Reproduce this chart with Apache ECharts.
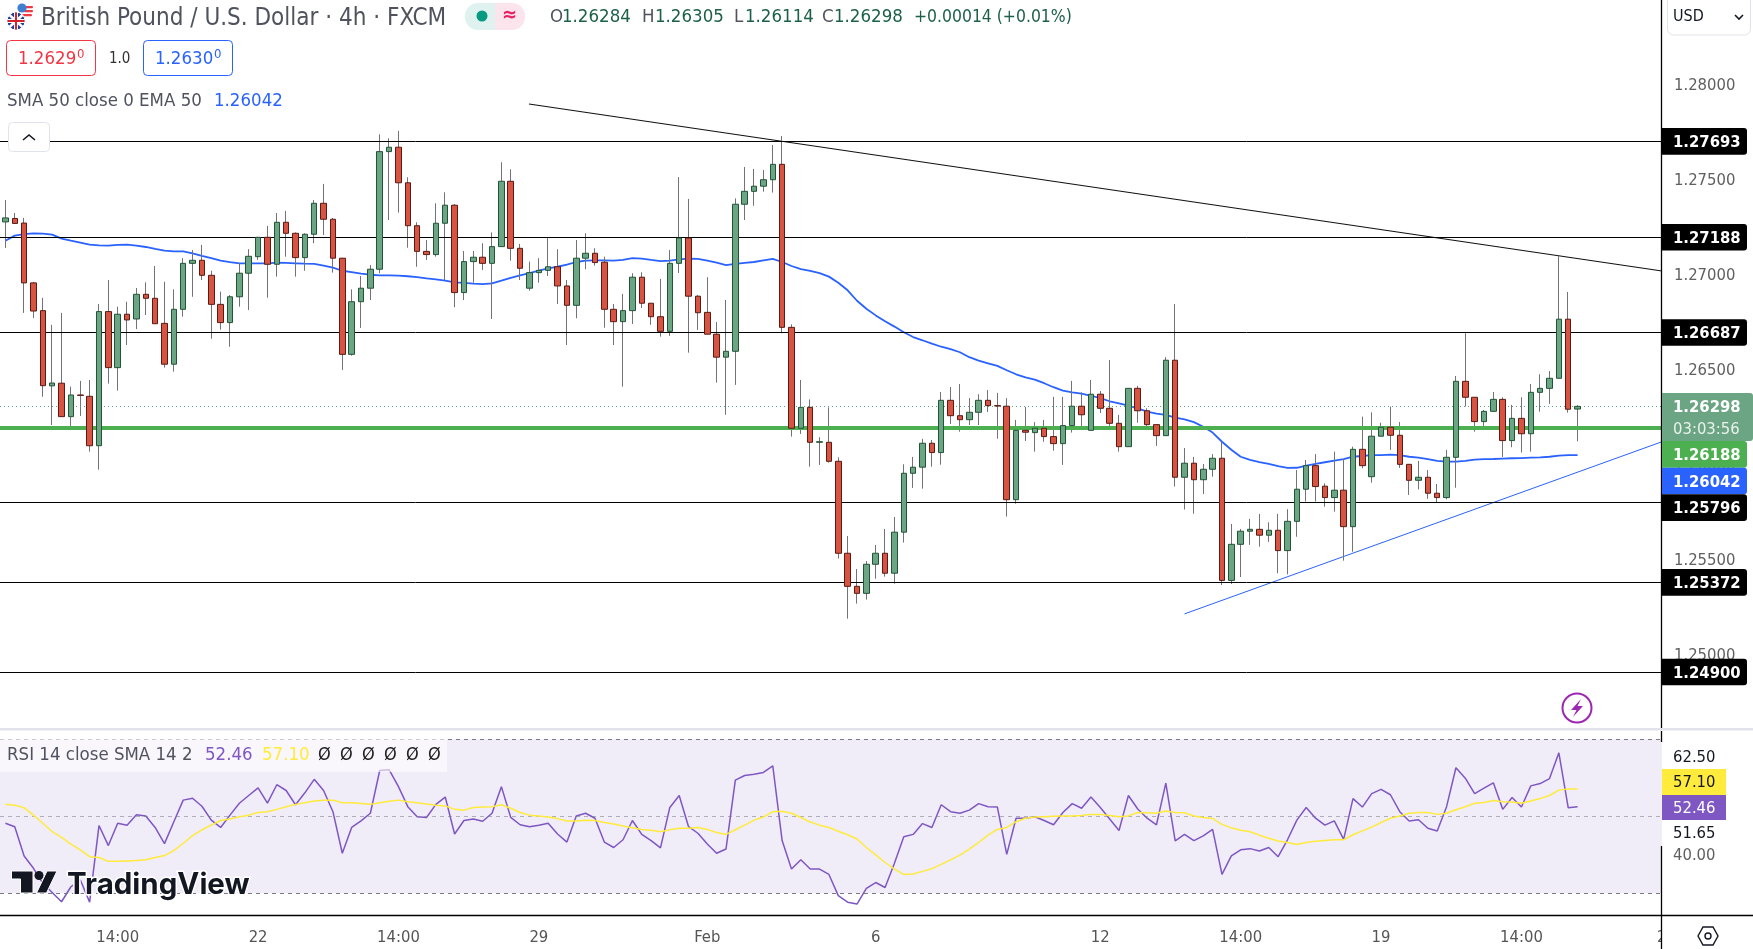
<!DOCTYPE html>
<html>
<head>
<meta charset="utf-8">
<title>GBP/USD 4h</title>
<script src="https://cdn.jsdelivr.net/npm/echarts@6/dist/echarts.min.js"></script>
<style>
html,body{margin:0;padding:0;background:#fff;}
#chart{width:1753px;height:949px;}
</style>
</head>
<body>
<div id="chart"></div>
<script>
// GBP/USD 4h candles, oldest first
const opens = [
1.27269,1.27287,1.27263,1.26948,1.26802,1.26406,1.26420,1.26244,1.26358,1.26351,
1.26091,1.26797,1.26502,1.26783,1.26758,1.26888,1.26867,1.26735,1.26520,1.26809,
1.27051,1.27067,1.26988,1.26835,1.26739,1.26875,1.26999,1.27086,1.27188,1.27046,
1.27267,1.27209,1.27081,1.27204,1.27367,1.27283,1.27078,1.26572,1.26849,1.26920,
1.27020,1.27639,1.27662,1.27475,1.27249,1.27114,1.27097,1.27262,1.27357,1.26897,
1.27060,1.27083,1.27051,1.27139,1.27483,1.27130,1.26920,1.27002,1.27014,1.27033,
1.26932,1.26830,1.27078,1.27104,1.27057,1.26809,1.26744,1.26802,1.26978,1.26841,
1.26770,1.26693,1.27051,1.27184,1.26878,1.26793,1.26678,1.26557,1.26588,1.27362,
1.27430,1.27457,1.27491,1.27572,1.26714,1.26183,1.26293,1.26109,1.26109,1.26009,
1.25525,1.25351,1.25314,1.25467,1.25525,1.25420,1.25636,1.25946,1.25978,1.26104,
1.26055,1.26330,1.26249,1.26228,1.26267,1.26330,1.26302,1.26299,1.25807,1.26172,
1.26160,1.26183,1.26139,1.26102,1.26197,1.26299,1.26172,1.26362,1.26288,1.26209,
1.26086,1.26393,1.26275,1.26202,1.26144,1.26541,1.25925,1.25999,1.25912,1.25967,
1.26025,1.25382,1.25572,1.25641,1.25651,1.25620,1.25646,1.25539,1.25693,1.25862,
1.25986,1.25878,1.25818,1.25857,1.25665,1.26072,1.25928,1.26141,1.26188,1.26146,
1.25993,1.25909,1.25925,1.25841,1.25818,1.26030,1.26430,1.26346,1.26218,1.26272,
1.26335,1.26118,1.26235,1.26154,1.26372,1.26393,1.26446,1.26757,1.26284];
const closes = [
1.27290,1.27261,1.26948,1.26800,1.26407,1.26421,1.26244,1.26358,1.26356,1.26091,
1.26797,1.26502,1.26783,1.26753,1.26888,1.26867,1.26733,1.26520,1.26809,1.27051,
1.27067,1.26988,1.26835,1.26739,1.26875,1.26999,1.27088,1.27188,1.27046,1.27267,
1.27209,1.27081,1.27204,1.27367,1.27283,1.27078,1.26572,1.26849,1.26920,1.27020,
1.27639,1.27662,1.27475,1.27249,1.27114,1.27097,1.27262,1.27357,1.26897,1.27060,
1.27083,1.27051,1.27139,1.27483,1.27130,1.27025,1.27002,1.27014,1.27033,1.26932,
1.26830,1.27078,1.27104,1.27055,1.26809,1.26744,1.26802,1.26978,1.26841,1.26770,
1.26693,1.27051,1.27184,1.26878,1.26791,1.26678,1.26557,1.26588,1.27362,1.27430,
1.27457,1.27491,1.27572,1.26714,1.26183,1.26293,1.26109,1.26112,1.26009,1.25525,
1.25351,1.25314,1.25467,1.25525,1.25420,1.25636,1.25946,1.25978,1.26104,1.26055,
1.26330,1.26249,1.26228,1.26267,1.26330,1.26302,1.26300,1.25807,1.26172,1.26162,
1.26183,1.26139,1.26102,1.26197,1.26299,1.26254,1.26362,1.26288,1.26209,1.26086,
1.26393,1.26275,1.26202,1.26144,1.26541,1.25925,1.25999,1.25912,1.25967,1.26025,
1.25382,1.25572,1.25641,1.25651,1.25620,1.25646,1.25539,1.25693,1.25862,1.25986,
1.25876,1.25818,1.25857,1.25665,1.26072,1.25986,1.26141,1.26188,1.26146,1.25993,
1.25909,1.25925,1.25841,1.25818,1.26030,1.26430,1.26346,1.26218,1.26272,1.26335,
1.26118,1.26235,1.26154,1.26372,1.26393,1.26446,1.26757,1.26283,1.26298];
const lows = [
1.27132,1.27258,1.26790,1.26763,1.26349,1.26200,1.26244,1.26191,1.26248,1.26060,
1.25965,1.26418,1.26381,1.26621,1.26705,1.26779,1.26733,1.26502,1.26481,1.26770,
1.26875,1.26963,1.26654,1.26702,1.26612,1.26823,1.26805,1.27069,1.26870,1.26981,
1.27086,1.26981,1.27012,1.27157,1.27200,1.27002,1.26490,1.26565,1.26711,1.26858,
1.26999,1.27279,1.27318,1.27133,1.27033,1.27069,1.27086,1.26963,1.26820,1.26858,
1.26949,1.27016,1.26758,1.27139,1.27065,1.26963,1.26907,1.26949,1.26984,1.26837,
1.26621,1.26762,1.27020,1.27039,1.26712,1.26621,1.26402,1.26732,1.26816,1.26727,
1.26665,1.26669,1.27000,1.26581,1.26700,1.26678,1.26423,1.26254,1.26411,1.27279,
1.27354,1.27428,1.27423,1.26683,1.26139,1.26153,1.25981,1.25990,1.26002,1.25497,
1.25181,1.25260,1.25281,1.25391,1.25402,1.25365,1.25581,1.25869,1.25865,1.25981,
1.25991,1.26205,1.26165,1.26200,1.26200,1.26269,1.26128,1.25718,1.25786,1.26116,
1.26060,1.26112,1.26065,1.25990,1.26160,1.26188,1.26172,1.26263,1.26186,1.26060,
1.26086,1.26212,1.26183,1.26090,1.26144,1.25876,1.25755,1.25733,1.25837,1.25928,
1.25358,1.25363,1.25400,1.25569,1.25560,1.25585,1.25420,1.25414,1.25612,1.25797,
1.25797,1.25770,1.25744,1.25486,1.25533,1.25972,1.25897,1.26141,1.26069,1.25974,
1.25832,1.25861,1.25811,1.25791,1.25809,1.25870,1.26297,1.26165,1.26174,1.26272,
1.26032,1.26083,1.26055,1.26060,1.26270,1.26311,1.26446,1.26265,1.26114];
const highs = [
1.27384,1.27316,1.27290,1.26953,1.26869,1.26727,1.26790,1.26402,1.26432,1.26437,
1.26837,1.26963,1.26823,1.26849,1.26921,1.26951,1.27037,1.26954,1.26914,1.27078,
1.27121,1.27148,1.27012,1.26902,1.26884,1.27053,1.27126,1.27190,1.27248,1.27316,
1.27327,1.27214,1.27209,1.27384,1.27469,1.27290,1.27080,1.26914,1.26984,1.27042,
1.27730,1.27709,1.27748,1.27504,1.27267,1.27174,1.27367,1.27425,1.27363,1.27116,
1.27116,1.27157,1.27214,1.27583,1.27546,1.27153,1.27060,1.27078,1.27188,1.27125,
1.26963,1.27174,1.27209,1.27130,1.27086,1.26837,1.26890,1.26999,1.27004,1.26841,
1.26969,1.27121,1.27505,1.27390,1.26884,1.26978,1.26742,1.26858,1.27393,1.27558,
1.27548,1.27542,1.27674,1.27721,1.26730,1.26437,1.26335,1.26136,1.26293,1.26030,
1.25616,1.25442,1.25484,1.25569,1.25653,1.25716,1.25993,1.26032,1.26127,1.26121,
1.26374,1.26400,1.26416,1.26342,1.26362,1.26384,1.26369,1.26341,1.26227,1.26295,
1.26215,1.26227,1.26348,1.26348,1.26432,1.26372,1.26437,1.26379,1.26542,1.26253,
1.26393,1.26406,1.26288,1.26202,1.26557,1.26837,1.26079,1.26032,1.25995,1.26047,
1.26112,1.25679,1.25653,1.25706,1.25732,1.25688,1.25732,1.25757,1.25963,1.26016,
1.26047,1.25893,1.26060,1.26021,1.26086,1.26244,1.26267,1.26212,1.26297,1.26216,
1.25993,1.26011,1.25963,1.25890,1.26069,1.26458,1.26683,1.26346,1.26279,1.26374,
1.26346,1.26306,1.26346,1.26416,1.26467,1.26484,1.27090,1.26900,1.26305];

// EMA 50 of the close
const ema50 = [
1.27170,1.27197,1.27205,1.27209,1.27207,1.27202,1.27181,1.27170,1.27160,1.27149,
1.27146,1.27144,1.27148,1.27149,1.27144,1.27137,1.27127,1.27118,1.27114,1.27114,
1.27104,1.27090,1.27078,1.27065,1.27057,1.27051,1.27051,1.27051,1.27051,1.27055,
1.27053,1.27051,1.27049,1.27048,1.27039,1.27028,1.27012,1.27005,1.26997,1.26991,
1.26988,1.26988,1.26986,1.26983,1.26978,1.26972,1.26967,1.26960,1.26951,1.26948,
1.26944,1.26942,1.26946,1.26960,1.26975,1.26988,1.26999,1.27012,1.27025,1.27033,
1.27044,1.27058,1.27065,1.27067,1.27067,1.27065,1.27069,1.27078,1.27076,1.27069,
1.27063,1.27065,1.27072,1.27076,1.27074,1.27065,1.27055,1.27042,1.27048,1.27053,
1.27058,1.27067,1.27074,1.27058,1.27037,1.27021,1.27011,1.26999,1.26981,1.26949,
1.26909,1.26854,1.26812,1.26777,1.26746,1.26718,1.26688,1.26663,1.26646,1.26628,
1.26612,1.26599,1.26583,1.26557,1.26539,1.26525,1.26511,1.26488,1.26467,1.26451,
1.26439,1.26420,1.26399,1.26381,1.26372,1.26365,1.26354,1.26341,1.26325,1.26314,
1.26302,1.26288,1.26270,1.26260,1.26253,1.26239,1.26230,1.26215,1.26191,1.26160,
1.26112,1.26070,1.26033,1.26016,1.26005,1.25995,1.25984,1.25974,1.25975,1.25986,
1.25995,1.26004,1.26012,1.26020,1.26033,1.26037,1.26041,1.26042,1.26044,1.26042,
1.26033,1.26028,1.26020,1.26011,1.26007,1.26007,1.26011,1.26018,1.26020,1.26021,
1.26023,1.26025,1.26026,1.26028,1.26030,1.26033,1.26039,1.26041,1.26042];

// RSI 14 and its SMA 14
const rsi14 = [
48.2,47.3,39.7,36.5,32.6,30.2,27.8,31.7,33.5,27.7,
47.6,42.4,48.2,47.7,50.4,50.1,47.1,42.9,48.6,54.2,
54.7,52.6,49.0,47.1,50.3,53.4,55.4,57.4,53.4,58.2,
56.7,53.0,56.1,59.6,56.7,51.2,40.4,47.1,48.8,50.8,
61.9,62.1,57.7,52.5,49.9,49.7,53.1,55.0,45.4,48.9,
49.3,48.7,50.8,57.7,49.7,47.8,47.3,47.7,48.2,45.4,
43.3,50.1,50.8,49.5,43.3,41.9,43.9,48.9,45.3,43.7,
41.8,52.3,55.4,47.3,45.6,42.8,40.4,41.5,59.4,60.6,
60.9,61.4,63.1,43.7,36.3,38.7,36.3,36.3,34.9,29.4,
27.7,27.2,31.3,32.8,31.5,37.8,44.7,45.3,48.1,47.1,
53.0,51.2,50.8,51.6,53.3,52.5,52.4,40.1,49.5,49.5,
49.9,48.9,47.8,51.0,53.3,52.1,55.0,52.3,49.3,46.3,
55.4,51.9,49.5,47.8,58.6,43.6,45.3,43.7,44.9,46.6,
34.9,39.7,41.3,41.6,41.0,41.9,39.5,43.9,49.0,52.3,
49.5,47.7,48.8,44.0,54.6,52.4,55.9,57.0,55.6,51.2,
48.8,49.1,46.9,46.2,52.5,62.6,59.9,55.9,57.3,58.7,
51.8,54.9,52.4,57.9,58.5,59.8,66.5,52.2,52.46];
const rsiSma14 = [
53.1,52.9,52.2,50.3,48.2,46.0,44.5,42.8,41.3,39.5,
39.3,38.3,38.3,38.4,38.5,38.7,39.3,39.8,41.1,43.0,
45.0,46.5,47.7,48.9,49.3,49.9,50.3,51.0,51.2,51.8,
52.5,53.1,53.5,54.0,54.2,54.2,53.5,53.5,53.3,53.1,
53.5,53.9,54.2,53.8,53.5,53.2,52.9,52.7,51.8,51.6,
52.3,52.4,52.5,53.0,52.1,51.0,50.3,50.1,49.8,49.4,
48.8,48.8,49.0,48.9,48.4,48.0,47.5,47.0,46.6,46.4,
46.0,46.5,46.9,46.9,47.1,46.6,45.8,45.3,46.5,47.7,
49.0,49.8,51.2,51.3,50.8,49.7,48.5,47.7,47.1,46.1,
45.2,44.1,41.9,40.0,38.0,36.3,34.9,35.0,35.7,36.4,
37.5,38.7,39.9,41.5,43.2,45.1,46.6,47.1,48.6,49.5,
49.8,49.9,50.0,50.1,50.1,50.2,50.5,50.5,50.2,49.9,
50.1,51.0,50.9,50.8,51.4,51.0,50.9,50.1,49.7,49.4,
47.9,47.0,46.4,46.0,45.1,44.3,43.6,43.2,42.7,43.2,
43.5,43.7,43.9,43.9,45.2,46.2,47.2,48.4,49.5,50.1,
50.8,51.0,51.0,50.5,50.8,51.7,52.5,53.4,53.6,54.1,
53.8,53.7,53.4,54.0,54.6,55.4,56.8,57.1,57.10];

// Drawn horizontal levels and trend lines
const blackLevels = [1.27693,1.27188,1.26687,1.25796,1.25372,1.24900];
const supportLevel = 1.26188;
const lastPrice = 1.26298;
const lastEma = 1.26042;
const resistanceTrend = [[55.95,1.27890],[177.02,1.27011]];
const supportTrend = [[126,1.25206],[177.02,1.26112]];

// Axis ticks
const priceTicks = [1.28,1.275,1.27,1.265,1.26,1.255,1.25];
const timeTickBars = [12,27,42,57,75,93,117,132,147,162,177];
const timeTickLabels = ['14:00','22','14:00','29','Feb','6','12','14:00','19','14:00','2'];

const FONT = '"DejaVu Sans Condensed","Noto Sans"';
const xMin = -0.577, xMax = 177.02;
const bars = opens.map((_, i) => i);

const option = {
  animation: false,
  backgroundColor: '#ffffff',
  grid: [
    {left: 0, top: 0, width: 1662, height: 729},
    {left: 0, top: 731, width: 1662, height: 185}
  ],
  xAxis: [
    {type: 'value', gridIndex: 0, min: xMin, max: xMax, show: false, splitLine: {show: false}},
    {type: 'value', gridIndex: 1, min: xMin, max: xMax, splitLine: {show: false},
      axisLine: {show: false}, axisTick: {show: false},
      axisLabel: {
        show: true, customValues: timeTickBars, margin: 13,
        color: '#555555', fontFamily: FONT, fontSize: 16.5,
        formatter: v => timeTickLabels[timeTickBars.indexOf(v)]
      }}
  ],
  yAxis: [
    {type: 'value', gridIndex: 0, position: 'right', min: 1.24600, max: 1.28437, scale: true,
      splitLine: {show: false}, axisLine: {show: false}, axisTick: {show: false},
      axisLabel: {
        customValues: priceTicks, margin: 12,
        formatter: v => '{p|' + v.toFixed(5) + '}',
        rich: {p: {color: '#606060', fontFamily: FONT, fontSize: 16.5, padding: [5, 0, 0, 0]}}
      }},
    {type: 'value', gridIndex: 1, position: 'right', min: 24.104, max: 72.156, scale: true, show: false,
      splitLine: {show: false}}
  ],
  series: [
    // Horizontal levels and the current price line, behind the candles
    {type: 'line', xAxisIndex: 0, yAxisIndex: 0, data: [], z: 1, silent: true,
      markLine: {
        silent: true, symbol: 'none', label: {show: false}, animation: false, precision: 5,
        data: blackLevels.map(v => ({yAxis: v, lineStyle: {color: '#000000', width: 1, type: 'solid'}}))
          .concat([
            {yAxis: supportLevel, lineStyle: {color: '#4caf50', width: 4, type: 'solid'}},
            {yAxis: lastPrice, lineStyle: {color: '#5fa37c', width: 1, type: [1, 3]}}
          ])
      }},
    {type: 'line', name: 'Resistance', xAxisIndex: 0, yAxisIndex: 0, data: resistanceTrend, showSymbol: false,
      lineStyle: {color: '#111111', width: 1.1}, z: 2, silent: true},
    {type: 'line', name: 'Support', xAxisIndex: 0, yAxisIndex: 0, data: supportTrend, showSymbol: false,
      lineStyle: {color: '#2962ff', width: 1}, z: 2, silent: true},
    {type: 'line', name: 'EMA 50', xAxisIndex: 0, yAxisIndex: 0, showSymbol: false, z: 3, silent: true,
      data: bars.map(i => [i, ema50[i]]), lineStyle: {color: '#2962ff', width: 1.8}},
    // Wicks
    {type: 'candlestick', name: 'Wicks', xAxisIndex: 0, yAxisIndex: 0, barWidth: 1, z: 4, silent: true,
      data: bars.map(i => [i, opens[i], closes[i], lows[i], highs[i]]),
      itemStyle: {color: '#737375', color0: '#737375', borderColor: '#737375', borderColor0: '#737375', borderColorDoji: '#737375', borderWidth: 1}},
    // Bodies, drawn over the wicks with their own darker outline
    {type: 'candlestick', name: 'GBP/USD', xAxisIndex: 0, yAxisIndex: 0, barWidth: 6, z: 5, silent: true,
      data: bars.map(i => [i, opens[i], closes[i], Math.min(opens[i], closes[i]), Math.max(opens[i], closes[i])]),
      itemStyle: {color: '#6ba583', color0: '#d75442', borderColor: '#225437', borderColor0: '#5b1a13', borderColorDoji: '#5b1a13', borderWidth: 1}},
    // RSI pane
    {type: 'line', name: 'RSI', xAxisIndex: 1, yAxisIndex: 1, showSymbol: false, z: 4, silent: true,
      data: bars.map(i => [i, rsi14[i]]), lineStyle: {color: '#7e57c2', width: 1.5},
      markArea: {silent: true, animation: false, itemStyle: {color: 'rgba(126,87,194,0.115)'},
        data: [[{yAxis: 30}, {yAxis: 70}]]},
      markLine: {silent: true, symbol: 'none', label: {show: false}, animation: false,
        data: [
          {yAxis: 70, lineStyle: {color: '#787b86', width: 1, type: [4, 4]}},
          {yAxis: 50, lineStyle: {color: 'rgba(120,123,134,0.55)', width: 1, type: [4, 4]}},
          {yAxis: 30, lineStyle: {color: '#787b86', width: 1, type: [4, 4]}}
        ]}},
    {type: 'line', name: 'RSI SMA', xAxisIndex: 1, yAxisIndex: 1, showSymbol: false, z: 5, silent: true,
      data: bars.map(i => [i, rsiSma14[i]]), lineStyle: {color: '#ffeb3b', width: 1.5}}
  ]
};

const chart = echarts.init(document.getElementById('chart'), null, {renderer: 'canvas'});
chart.setOption(option);

// Overlay elements: legend text, logo, price tags
function text(str, x, y, size, fill, extra) {
  return Object.assign({type: 'text', x, y, silent: true, z: 30,
    style: Object.assign({text: str, font: size + 'px ' + FONT, fill, verticalAlign: 'middle', align: 'left'}, extra && extra.style)},
    extra && extra.props);
}
function rect(x, y, w, h, fill, stroke, r, z) {
  return {type: 'rect', silent: true, z: z || 25, shape: {x, y, width: w, height: h, r: r || 0},
    style: {fill, stroke: stroke || null, lineWidth: 1}};
}
function line(x1, y1, x2, y2, stroke, w, z) {
  return {type: 'line', silent: true, z: z || 26, shape: {x1, y1, x2, y2}, style: {stroke, lineWidth: w || 1}};
}
function circle(cx, cy, r, fill, stroke, w, z) {
  return {type: 'circle', silent: true, z: z || 27, shape: {cx, cy, r}, style: {fill, stroke: stroke || null, lineWidth: w || 1}};
}
function poly(points, fill, stroke, w, z, closed) {
  return {type: closed === false ? 'polyline' : 'polygon', silent: true, z: z || 27, shape: {points},
    style: {fill: closed === false ? null : fill, stroke: stroke || null, lineWidth: w || 1}};
}

const els = [];
// Panel frame
els.push(rect(1662, 917, 91, 32, '#ffffff', null, 0, 20));
els.push(rect(0, 728, 1753, 2.5, '#e0e3eb', null, 0, 21));
els.push(line(0, 915.5, 1753, 915.5, '#000000', 1.3, 22));
els.push(line(1661.5, 0, 1661.5, 728, '#000000', 1.3, 22));
els.push(line(1661.5, 731, 1661.5, 742, '#000000', 1.3, 22));
els.push(line(1661.5, 846, 1661.5, 949, '#000000', 1.3, 22));

// Flags
els.push(circle(26, 11, 7.5, '#ffffff'));
els.push(rect(19, 6, 14, 2.2, '#ef3b42', null, 1, 28));
els.push(rect(24, 10, 9, 2.2, '#ef3b42', null, 1, 28));
els.push(rect(21, 14, 11, 2.2, '#ef3b42', null, 1, 28));
els.push(circle(22, 8, 4.6, '#3f7fd1', null, 1, 28));
els.push(circle(16, 21, 9, '#1c3f94', '#ffffff', 1, 29));
els.push(line(9.5, 15, 22.5, 27, '#ffffff', 2.5, 30));
els.push(line(22.5, 15, 9.5, 27, '#ffffff', 2.5, 30));
els.push(line(16, 12.5, 16, 29.5, '#ffffff', 4, 30));
els.push(line(7.5, 21, 24.5, 21, '#ffffff', 4, 30));
els.push(line(16, 12.5, 16, 29.5, '#d4222f', 2, 31));
els.push(line(7.5, 21, 24.5, 21, '#d4222f', 2, 31));

// Title row
els.push(text('British Pound / U.S. Dollar · 4h · FXCM', 41, 19, 24, '#50535e'));
els.push({type: 'rect', silent: true, z: 25, shape: {x: 465, y: 3, width: 30, height: 27, r: [13, 0, 0, 13]}, style: {fill: '#e0f2ef'}});
els.push({type: 'rect', silent: true, z: 25, shape: {x: 495, y: 3, width: 30, height: 27, r: [0, 13, 13, 0]}, style: {fill: '#fce4ec'}});
els.push(circle(482, 16, 5.5, '#089981'));
els.push(text('≈', 502, 16, 20, '#e91e63', {style: {font: 'bold 20px ' + FONT}}));

// OHLC readout
const ohlcParts = [['O', 550], ['1.26284', 562], ['H', 642], ['1.26305', 655], ['L', 734], ['1.26114', 745], ['C', 822], ['1.26298', 834]];
ohlcParts.forEach((p, i) => els.push(text(p[0], p[1], 17, 18.5, i % 2 ? '#1d6049' : '#50535e')));
els.push(text('+0.00014 (+0.01%)', 914, 17, 17.4, '#1d6049'));

// Bid / ask boxes
els.push(rect(6.5, 40.5, 89, 35, '#ffffff', '#f23645', 4));
els.push(text('1.2629', 18, 59, 18.5, '#f23645'));
els.push(text('0', 77, 55, 13, '#f23645'));
els.push(text('1.0', 109, 59, 15, '#333333'));
els.push(rect(143.5, 40.5, 89, 35, '#ffffff', '#2962ff', 4));
els.push(text('1.2630', 155, 59, 18.5, '#2962ff'));
els.push(text('0', 214, 55, 13, '#2962ff'));

// Indicator legends
els.push(text('SMA 50 close 0 EMA 50', 7, 101, 18.5, '#50535e'));
els.push(text('1.26042', 214, 101, 18.5, '#2962ff'));
els.push(rect(8.5, 122.5, 41, 29, '#ffffff', '#e0e3eb', 4));
els.push(poly([[23, 140], [29, 135], [35, 140]], null, '#131722', 1.6, 27, false));

els.push(rect(0, 739, 447, 33, 'rgba(255,255,255,0.6)', null, 0, 24));
els.push(text('RSI 14 close SMA 14 2', 7, 755, 18.5, '#50535e'));
els.push(text('52.46', 205, 755, 18.5, '#7e57c2'));
els.push(text('57.10', 262, 755, 18.5, '#ffeb3b'));
[318, 340, 362, 384, 406, 428].forEach(x => els.push(text('Ø', x, 755, 18, '#222222')));

// Logo
els.push(poly([[11.5, 871], [33, 871], [33, 893], [20.5, 893], [20.5, 879], [11.5, 879]], '#131722', '#ffffff', 1, 28));
els.push(circle(39, 875.5, 4.5, '#131722', null, 1, 28));
els.push(poly([[47, 871], [57, 871], [46.5, 893], [36.5, 893]], '#131722', '#ffffff', 1, 28));
els.push(text('TradingView', 67, 885, 29.5, '#131722', {style: {font: '700 29.5px Inter', stroke: '#ffffff', lineWidth: 3, strokeFirst: true}}));

// Alert marker
els.push(circle(1577, 708, 14.5, '#ffffff', '#9c27b0', 2));
els.push(poly([[1581, 699], [1571, 710], [1576.5, 710], [1573, 717], [1583, 706], [1577.5, 706]], '#9c27b0', null, 1, 28));

// Currency box and settings icon
els.push(rect(1667.5, -6, 83, 41, '#ffffff', '#e0e3eb', 6));
els.push(text('USD', 1673, 17, 16, '#131722'));
els.push(poly([[1735, 15], [1739, 19], [1743, 15]], null, '#131722', 1.6, 27, false));
els.push(poly([[1698, 936], [1703, 927], [1713, 927], [1718, 936], [1713, 945], [1703, 945]], '#ffffff', '#131722', 1.4, 27));
els.push(circle(1708, 936, 3, '#ffffff', '#131722', 1.4, 28));

// RSI axis tags
els.push(rect(1662, 744, 90, 101, '#ffffff', null, 0, 23));
els.push(text('62.50', 1673, 758, 16.5, '#131722'));
els.push(rect(1662, 769, 64, 26, '#ffeb3b'));
els.push(text('57.10', 1673, 783, 16.5, '#131722'));
els.push(rect(1662, 795, 64, 25, '#7e57c2'));
els.push(text('52.46', 1673, 809, 16.5, '#ffffff'));
els.push(text('51.65', 1673, 834, 16.5, '#131722'));
els.push(text('40.00', 1673, 856, 16.5, '#606060'));

// Price tags, placed from the price scale and stacked where they would collide
const py = p => chart.convertToPixel({yAxisIndex: 0}, p);
const tagH = 26.6;
function tag(p, top, fill) {
  els.push({type: 'rect', silent: true, z: 25,
    shape: {x: 1662, y: top, width: 85, height: tagH, r: [0, 3, 3, 0]}, style: {fill}});
  els.push(text(p.toFixed(5), 1673, top + tagH / 2 + 1.5, 16.5, '#ffffff', {style: {font: 'bold 16.5px ' + FONT}}));
}
[1.27693, 1.27188, 1.26687].forEach(p => tag(p, py(p) - tagH / 2, '#000000'));
const lastTop = py(lastPrice) - tagH / 2;
els.push({type: 'rect', silent: true, z: 26, shape: {x: 1662, y: lastTop, width: 91, height: 48, r: [0, 3, 3, 0]}, style: {fill: '#6ba583'}});
els.push(text(lastPrice.toFixed(5), 1673, lastTop + 15, 16.5, '#ffffff', {style: {font: 'bold 16.5px ' + FONT}}));
els.push(text('03:03:56', 1673, lastTop + 37, 16.5, 'rgba(255,255,255,0.85)'));
let stackTop = lastTop + 48;
[[supportLevel, '#4caf50'], [lastEma, '#2962ff'], [1.25796, '#000000']].forEach(([p, fill]) => {
  const t = Math.max(stackTop, py(p) - tagH / 2);
  tag(p, t, fill);
  stackTop = t + tagH;
});
[1.25372, 1.249].forEach(p => tag(p, py(p) - tagH / 2, '#000000'));

chart.setOption({graphic: {elements: els}});
</script>
</body>
</html>
